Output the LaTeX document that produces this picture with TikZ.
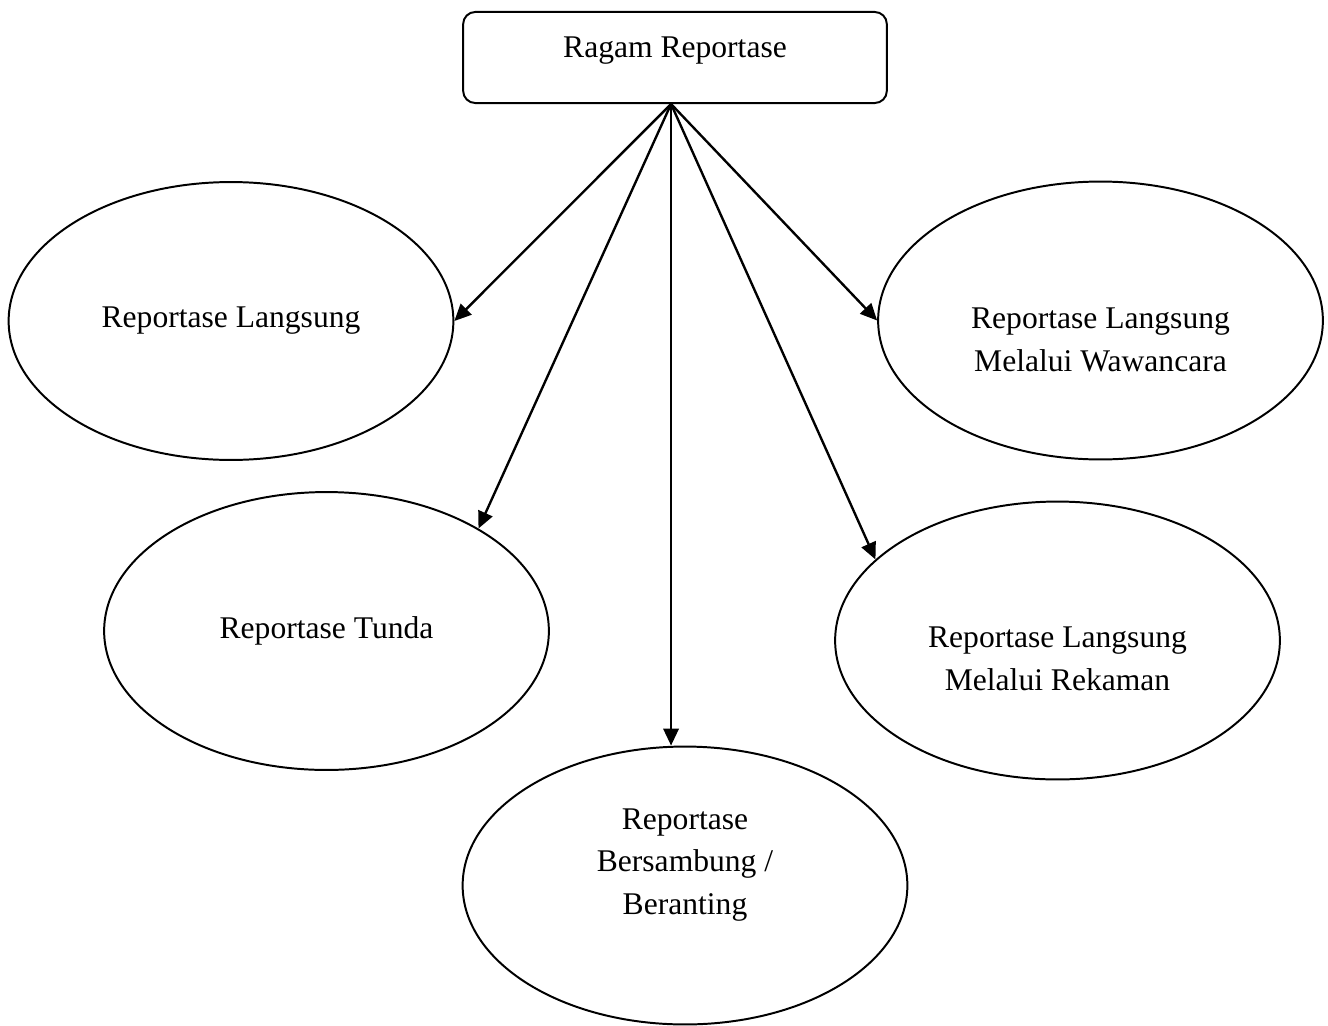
\documentclass[tikz,border=0pt]{standalone}
\usepackage{fontspec}
\setmainfont{Liberation Serif}
\usetikzlibrary{arrows.meta,shapes.geometric}
\newcommand{\lifted}[2]{\raisebox{#1}[\height][\depth]{\begin{tabular}{@{}c@{}}#2\end{tabular}}}

\begin{document}
\begin{tikzpicture}[
  x=0.38pt, y=-0.38pt,
  font=\fontsize{12}{16.3}\selectfont,
  line width=0.75pt,
  ragam/.style={draw, rounded corners=4.6pt, minimum width=161pt, minimum height=34.6pt, inner sep=0pt},
  oval/.style={draw, ellipse, minimum width=169pt, minimum height=105.6pt, inner sep=0pt},
  arr/.style={line width=0.9pt, -{Triangle[length=6.4pt, width=5.8pt]}}
]
\useasboundingbox (0,0) rectangle (1328,1025);
\node[ragam] (top) at (675,57.5) {\lifted{3.4pt}{Ragam Reportase}};
\node[oval] (lang) at (231,321) {Reportase Langsung};
\node[oval] (tunda) at (326.5,631) {Reportase Tunda};
\node[oval] (bers) at (685,885.5) {\lifted{8.4pt}{Reportase\\Bersambung /\\Beranting}};
\node[oval] (waw) at (1100.5,320.5) {\lifted{-8pt}{Reportase Langsung\\Melalui Wawancara}};
\node[oval] (rek) at (1057.5,640.5) {\lifted{-7.6pt}{Reportase Langsung\\Melalui Rekaman}};
\coordinate (hub) at ([xshift=-1.5pt]top.south);
\draw[arr] (hub) -- (lang.east);
\draw[arr] (hub) -- (tunda.34);
\draw[arr] (hub) -- (hub |- bers.north);
\draw[arr] (hub) -- (waw.west);
\draw[arr] (hub) -- (rek.156);
\end{tikzpicture}
\end{document}
